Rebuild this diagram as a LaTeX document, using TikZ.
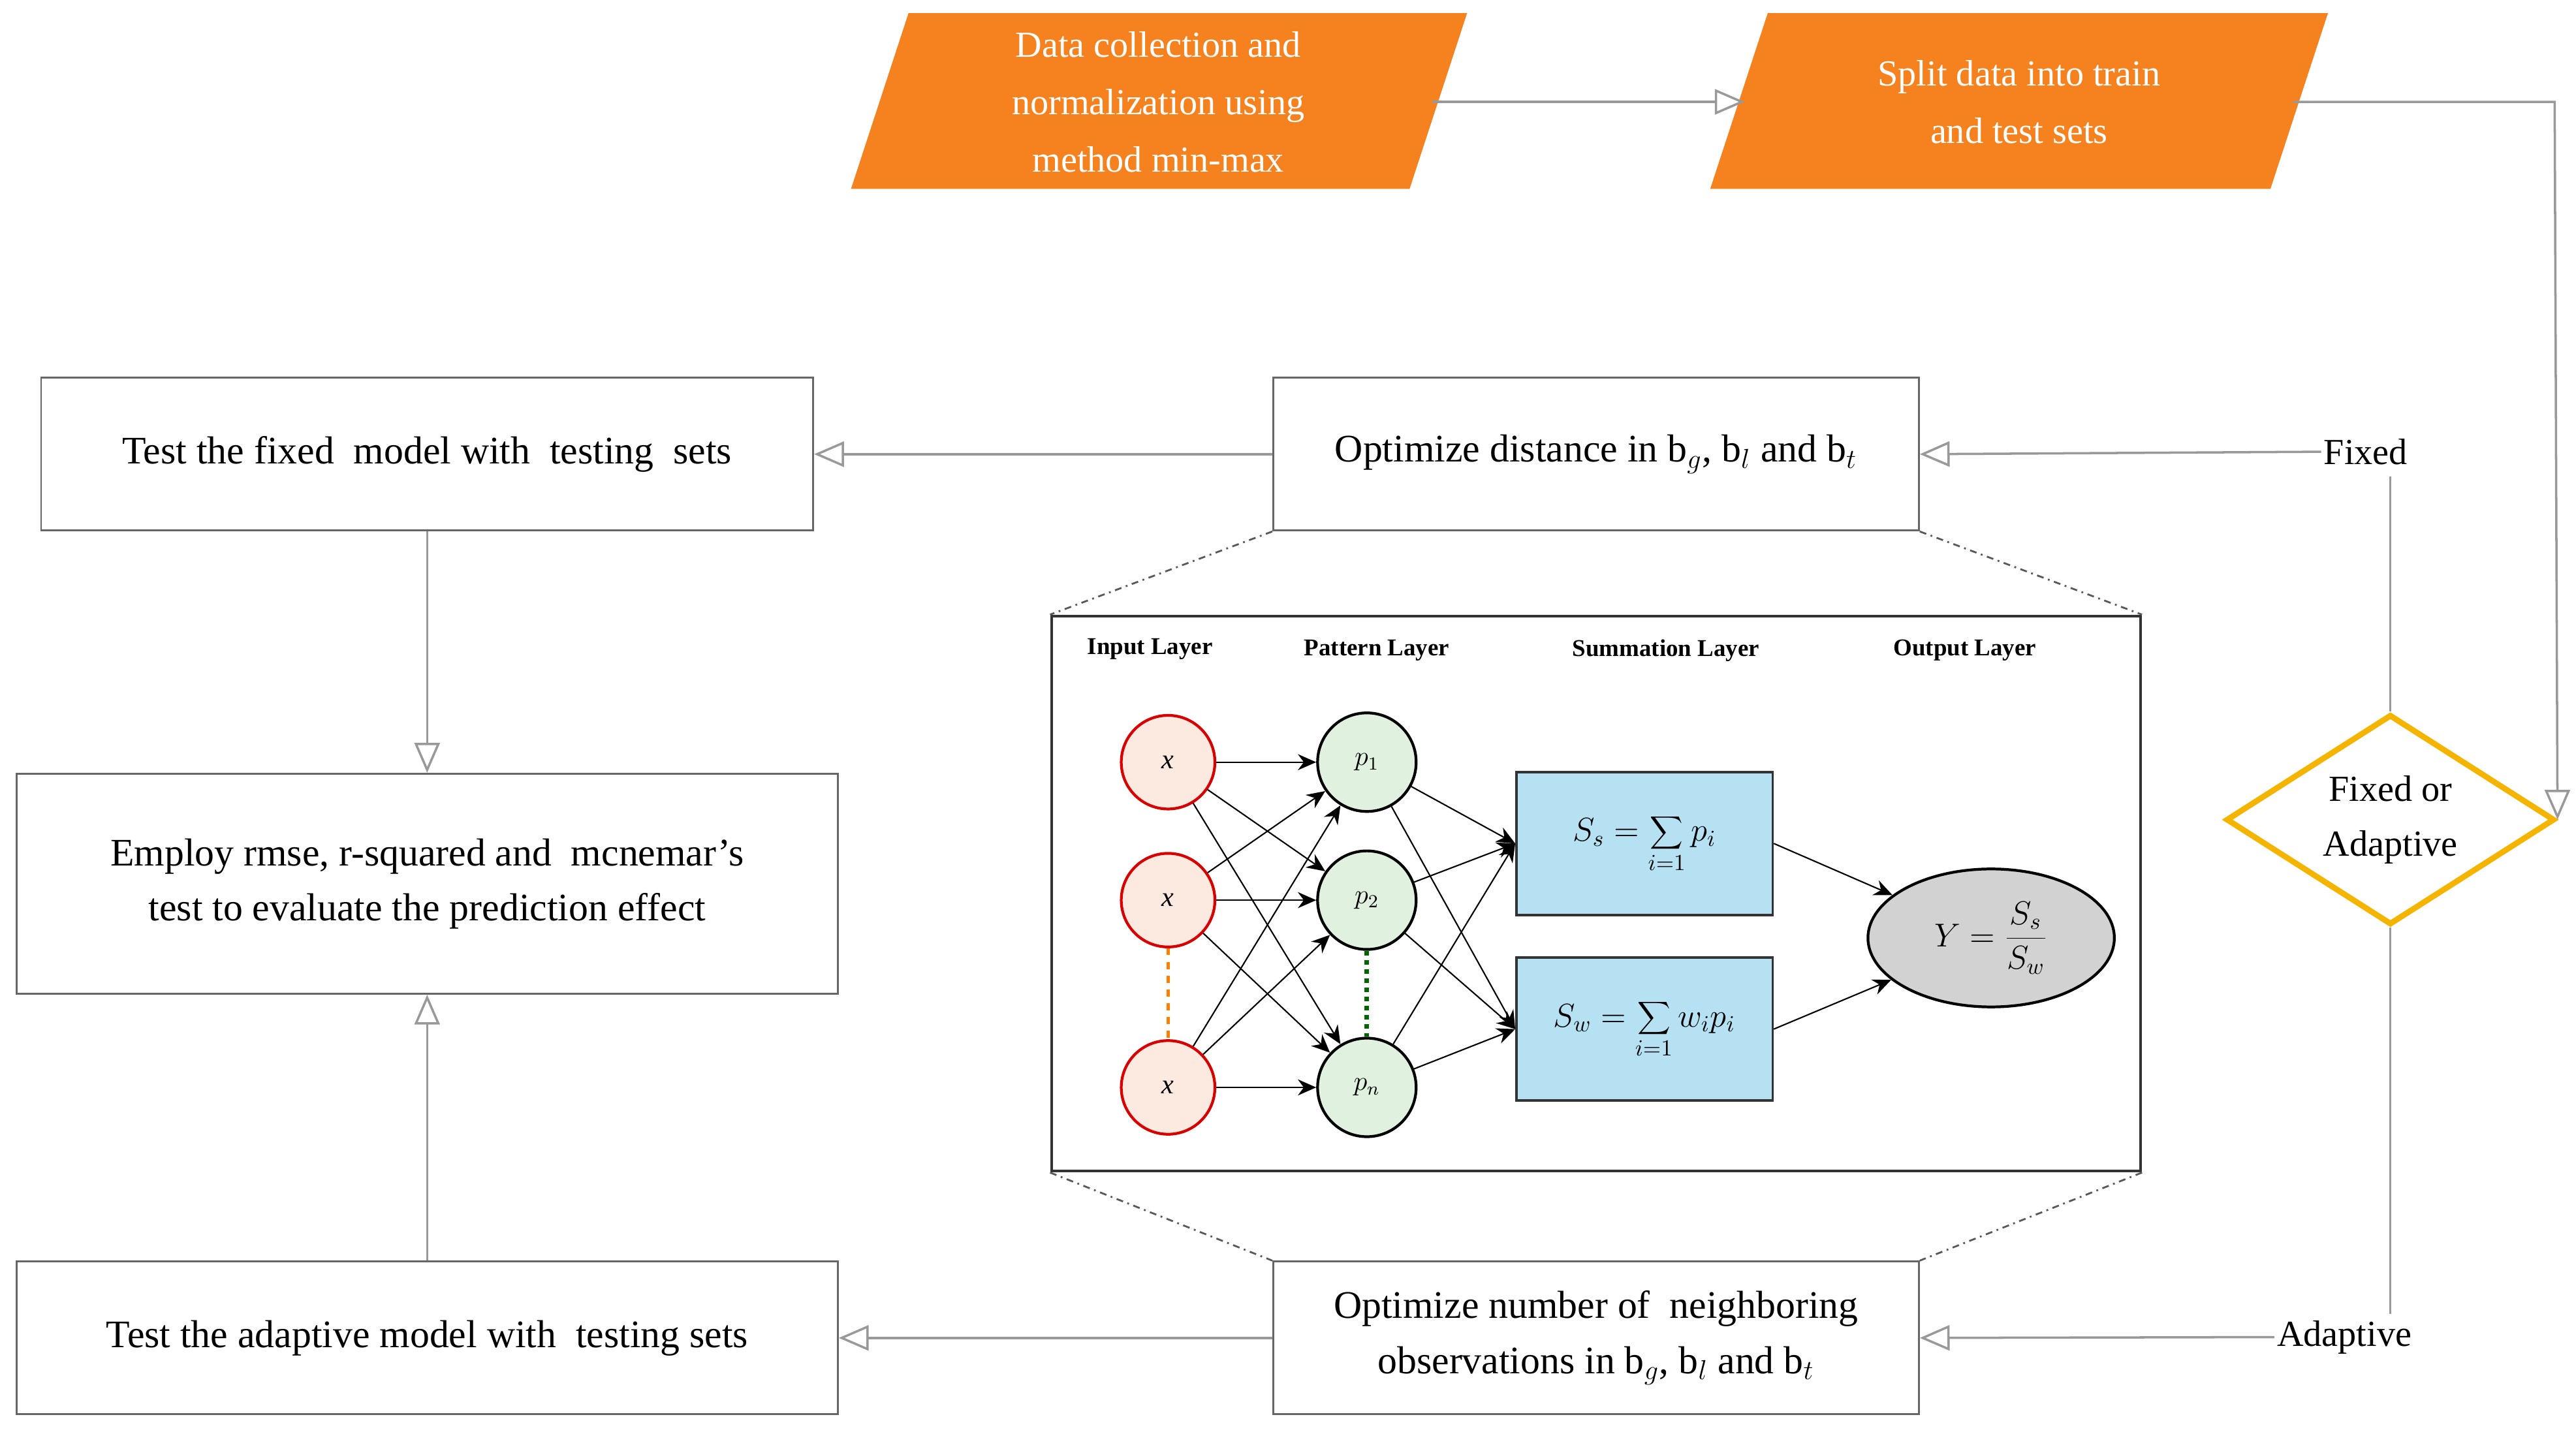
\documentclass[tikz,border=0pt]{standalone}
\usepackage{fontspec}
\setmainfont{Liberation Serif}
\usetikzlibrary{arrows.meta,shapes.geometric}
\definecolor{org}{HTML}{F5821F}
\definecolor{dia}{HTML}{F5B400}
\definecolor{sumb}{HTML}{B5E1F3}
\definecolor{inf}{HTML}{FCE9DF}
\definecolor{pf}{HTML}{E0F1E0}
\begin{document}
\begin{tikzpicture}[x=0.025166cm,y=-0.025166cm,
  box/.style={draw=gray!80!black,line width=0.8pt,fill=white,align=center,font=\fontsize{17}{24}\selectfont,inner sep=0pt},
  ga/.style={draw=gray!80,line width=1pt,-{Triangle[open,length=13pt,width=11pt]}},
  gl/.style={draw=gray!80,line width=1pt},
  dd/.style={draw=gray!70!black,line width=0.8pt,dash dot},
  na/.style={-{Stealth[length=8pt,width=7pt]},line width=0.6pt},
  lay/.style={font=\bfseries\fontsize{10.5}{12}\selectfont},
  inn/.style={circle,draw=red!85!black,line width=1.2pt,fill=inf,minimum size=57*0.025166cm,inner sep=0pt,font=\itshape\fontsize{12}{14}\selectfont},
  pn/.style={circle,draw=black,line width=1.2pt,fill=pf,minimum size=60*0.025166cm,inner sep=0pt,font=\fontsize{12}{14}\selectfont},
  sb/.style={draw=black!80,line width=1pt,fill=sumb,minimum width=156*0.025166cm,minimum height=87*0.025166cm,inner sep=0pt,font=\fontsize{14}{16}\selectfont}]
\useasboundingbox (0,0) rectangle (1568,873);
% parallelograms
\fill[org] (553,8) -- (893,8) -- (858,115) -- (518,115) -- cycle;
\node[text=white,align=center,font=\fontsize{16}{25}\selectfont] (d1) at (705,62) {Data collection and\\normalization using\\method min-max};
\fill[org] (1076,8) -- (1417,8) -- (1382,115) -- (1041,115) -- cycle;
\node[text=white,align=center,font=\fontsize{16}{25}\selectfont] (d2) at (1229,62) {Split data into train\\and test sets};
\coordinate (d1e) at (872,62);
\coordinate (d2w) at (1062,62);
\draw[ga] (d1e) -- (d2w);
% diamond
\node[diamond,draw=dia,line width=2.5pt,fill=white,minimum width=200*0.025166cm,minimum height=128*0.025166cm,inner sep=0pt,align=center,font=\fontsize{16}{24}\selectfont,aspect=1.56] (dm) at (1455,499) {Fixed or\\Adaptive};
\coordinate (d2e) at (1396,62);
\coordinate (c1) at (1555,62);
\draw[ga] (d2e) -- (c1) -- (dm.east);
% boxes
\node[box,minimum width=393*0.025166cm,minimum height=93*0.025166cm] (opt) at (971.5,276.5) {Optimize distance in b$_g$, b$_l$ and b$_t$};
\node[box,minimum width=470*0.025166cm,minimum height=93*0.025166cm] (tf) at (260,276.5) {Test the fixed\ \ model with\ \ testing\ \ sets};
\node[box,minimum width=500*0.025166cm,minimum height=134*0.025166cm] (emp) at (260,538) {Employ rmse,\ r-squared and\ \ mcnemar's\\test to evaluate the prediction effect};
\node[box,minimum width=500*0.025166cm,minimum height=93*0.025166cm] (ta) at (260,814.5) {Test the adaptive model with\ \ testing sets};
\node[box,minimum width=393*0.025166cm,minimum height=93*0.025166cm] (optn) at (971.5,814.5) {Optimize number of\ \ neighboring\\observations in b$_g$, b$_l$ and b$_t$};
\node[font=\fontsize{16}{20}\selectfont,fill=white,inner sep=1pt] (fx) at (1440,275) {Fixed};
\node[font=\fontsize{16}{20}\selectfont,fill=white,inner sep=1pt] (ad) at (1427,814) {Adaptive};
\draw[gl] (dm.north) -- (1455,290);
\draw[gl] (dm.south) -- (1455,800);
\draw[ga] (fx.west) -- (opt.east);
\draw[ga] (ad.west) -- (optn.east);
\draw[ga] (opt.west) -- (tf.east);
\draw[ga] (optn.west) -- (ta.east);
\draw[ga] (tf.south) -- (emp.north);
\draw[ga] (ta.north) -- (emp.south);
% network frame
\node[draw=black!80,line width=1.2pt,minimum width=663*0.025166cm,minimum height=338*0.025166cm,inner sep=0pt] (net) at (971.5,544) {};
\draw[dd] (opt.south west) -- (net.north west);
\draw[dd] (opt.south east) -- (net.north east);
\draw[dd] (net.south west) -- (optn.north west);
\draw[dd] (net.south east) -- (optn.north east);
\node[lay] (l1) at (700,395) {Input Layer};
\node[lay] (l2) at (838,396) {Pattern Layer};
\node[lay] (l3) at (1014,396) {Summation Layer};
\node[lay] (l4) at (1196,396) {Output Layer};
\node[inn] (x1) at (711,464) {x};
\node[inn] (x2) at (711,548) {x};
\node[inn] (x3) at (711,662) {x};
\node[pn] (p1) at (832,464) {$p_1$};
\node[pn] (p2) at (832,548) {$p_2$};
\node[pn] (p3) at (832,662) {$p_n$};
\draw[orange,line width=1.5pt,dashed] (x2) -- (x3);
\draw[green!40!black,line width=2pt,dotted] (p2) -- (p3);
\node[sb] (s1) at (1001,513.5) {$S_s = \displaystyle\sum_{i=1} p_i$};
\node[sb] (s2) at (1001,626.5) {$S_w = \displaystyle\sum_{i=1} w_i p_i$};
\node[ellipse,draw=black,line width=1.2pt,fill=gray!35,minimum width=150*0.025166cm,minimum height=84*0.025166cm,inner sep=0pt,font=\fontsize{14}{16}\selectfont] (y) at (1212,571) {$Y=\displaystyle\frac{S_s}{S_w}$};
\foreach \a in {x1,x2,x3}{\foreach \b in {p1,p2,p3}{\draw[na] (\a) -- (\b);}}
\foreach \a in {p1,p2,p3}{\foreach \b in {s1,s2}{\draw[na] (\a) -- (\b.west);}}
\draw[na] (s1.east) -- (y);
\draw[na] (s2.east) -- (y);
\end{tikzpicture}
\end{document}
